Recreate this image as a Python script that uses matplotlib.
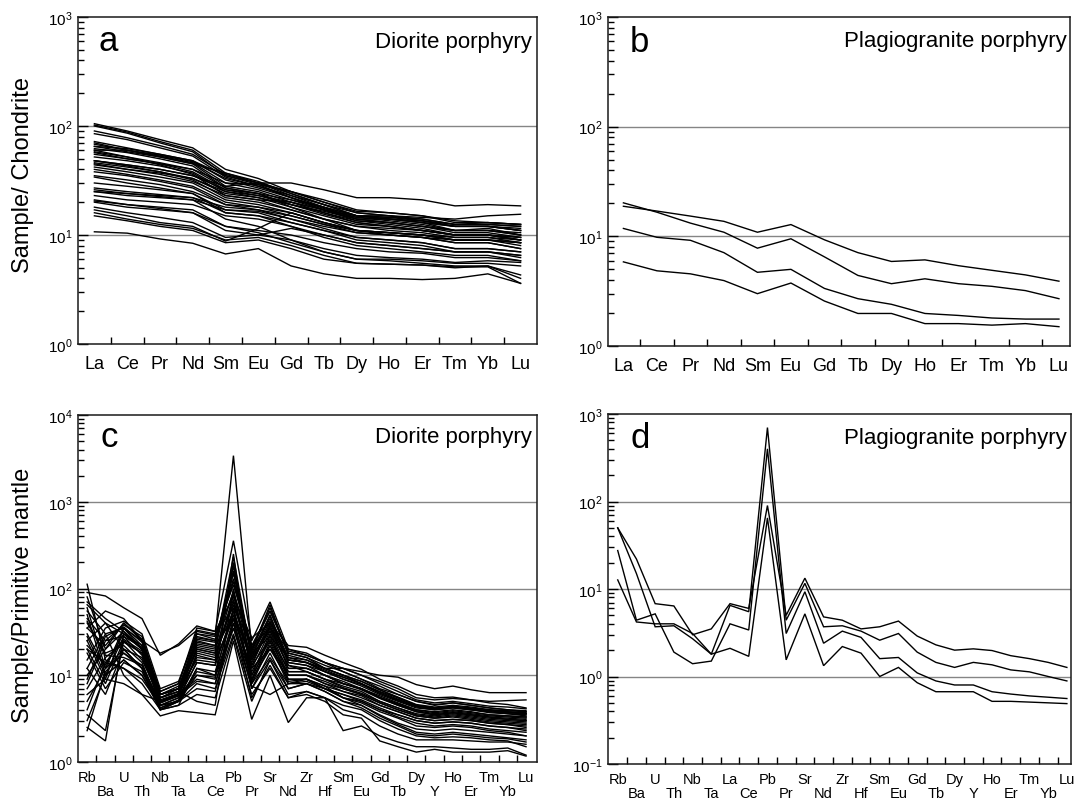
import matplotlib
matplotlib.use("Agg")
import matplotlib.pyplot as plt
import numpy as np

plt.rcParams['font.family'] = ['Liberation Sans', 'DejaVu Sans']
plt.rcParams['mathtext.fontset'] = 'custom'
plt.rcParams['mathtext.rm'] = 'Liberation Sans'
plt.rcParams['mathtext.it'] = 'Liberation Sans:italic'
plt.rcParams['mathtext.bf'] = 'Liberation Sans:bold'

# ---------------------------------------------------------------- elements
ree_elements = ['La', 'Ce', 'Pr', 'Nd', 'Sm', 'Eu', 'Gd', 'Tb', 'Dy', 'Ho',
                'Er', 'Tm', 'Yb', 'Lu']
spider_elements = ['Rb', 'Ba', 'U', 'Th', 'Nb', 'Ta', 'La', 'Ce', 'Pb', 'Pr',
                   'Sr', 'Nd', 'Zr', 'Hf', 'Sm', 'Eu', 'Gd', 'Tb', 'Dy', 'Y',
                   'Ho', 'Er', 'Tm', 'Yb', 'Lu']

# ------------------------------------------- chondrite-normalised REE (a)
diorite_ree = [
    [105, 90, 75, 63, 40, 33, 25, 20, 16, 15, 13.5, 12, 12, 11],
    [102, 88, 72, 60, 37, 31, 24, 19, 15, 14, 13, 11, 11.5, 10],
    [100, 86, 70, 58, 35, 29, 22, 17, 13.5, 12.5, 11.5, 10, 10, 9],
    [90, 78, 66, 55, 36, 30, 23, 18, 14, 13, 12, 10.5, 10.5, 9.5],
    [85, 75, 63, 53, 34, 28, 22, 17.5, 14.5, 13.5, 12.5, 11, 11, 10],
    [72, 63, 55, 48, 32, 27, 22, 18, 15, 14.5, 13.5, 12, 12, 11],
    [68, 60, 53, 46, 30, 26, 21, 17, 14, 13, 12, 11, 11, 10],
    [65, 58, 52, 45, 28, 25, 20, 16, 13, 12, 11, 10, 10, 9],
    [62, 57, 50, 43, 27, 24, 18, 14, 11, 10, 9.5, 8.5, 8.5, 7.5],
    [60, 60, 54, 47, 33, 28, 23, 19, 16, 15, 14, 12.5, 12.5, 12],
    [58, 52, 46, 40, 27, 24, 19, 15.5, 13, 12, 11, 10, 10, 9],
    [55, 50, 45, 38, 26, 23, 19, 16, 13.5, 13, 12, 11, 11, 10.5],
    [60, 52, 44, 36, 23, 21, 17, 14, 12, 11, 10.5, 9.5, 9.5, 8.5],
    [52, 48, 43, 37, 25, 22, 18, 15, 12.5, 12, 11, 10, 10, 9.5],
    [48, 44, 40, 35, 28, 30, 30, 26, 22, 22, 21, 18.5, 19, 18.5],
    [48, 43, 38, 33, 24, 22, 19, 16.5, 14, 14, 13.5, 12.5, 13, 12.5],
    [46, 42, 38, 32, 22, 20, 17, 14, 12, 11.5, 11, 10, 10, 9.5],
    [44, 40, 36, 31, 23, 21, 20, 17, 15, 15, 14.5, 14, 15, 15.5],
    [42, 38, 34, 30, 21, 19, 16, 13, 11, 10.5, 10, 9, 9, 8],
    [40, 36, 32, 28, 20, 18, 15, 12.5, 10.5, 10, 9.5, 8.5, 8.5, 7.5],
    [38, 35, 31, 27, 19, 17, 14, 11.5, 9.5, 9, 8.5, 7.5, 7.5, 7],
    [35, 32, 29, 25, 19, 18, 16, 13, 11, 10.5, 10, 9, 9, 8.5],
    [34, 30, 27, 24, 16, 15, 12, 9.5, 8, 7.5, 7, 6.5, 6.5, 5.8],
    [27, 25, 23.5, 22, 16, 15, 13, 11, 9, 8.5, 8, 7, 7, 6.5],
    [26, 24, 22.5, 21, 17, 16.5, 14, 12, 10.5, 10, 9.5, 9, 9, 8.5],
    [25, 24, 23, 22, 18, 17, 15, 12.5, 11, 10.5, 10, 9.5, 9.5, 9],
    [25, 23, 22, 21, 14, 12, 9, 7, 6, 6, 5.8, 5.5, 5.5, 5.2],
    [21, 19, 18, 17, 12, 10.5, 8.5, 7, 6, 5.8, 5.5, 5.2, 5.2, 4.3],
    [20.5, 19, 17.5, 16, 11, 10, 9, 7.5, 6.5, 6.2, 6, 5.6, 5.8, 5.6],
    [20, 18, 17, 16, 12, 11, 10, 8.5, 7.5, 7, 6.8, 6.2, 6.2, 5.8],
    [17, 15, 13, 12, 8.8, 11.5, 16, 13, 11, 10.5, 10, 9, 9, 8.5],
    [18, 16, 14.5, 13, 9.5, 10, 11.5, 10, 8.5, 8, 7.5, 7, 7, 6.5],
    [16, 14, 12.5, 11.5, 9, 9.5, 8, 6.5, 5.5, 5.4, 5.3, 5.0, 5.2, 4.0],
    [15, 13.5, 12, 11, 8.5, 9, 7.5, 6, 5.5, 5.4, 5.3, 5.1, 5.1, 3.6],
    [10.7, 10.4, 9.2, 8.4, 6.7, 7.5, 5.2, 4.4, 4.0, 4.0, 3.9, 4.0, 4.4, 3.6],
    [65, 62, 55, 48, 35, 30, 25, 20, 16.5, 16, 15, 13.5, 13, 12.5],
    [70, 60, 52, 45, 37, 30, 24, 19, 15, 14, 13, 12, 12, 11],
    [57, 50, 45, 40, 30, 29, 25, 21, 17, 16, 15, 13, 13, 12.5],
    [45, 40, 37, 33, 25, 23, 20, 17, 14.5, 14, 13, 12, 12, 11.5],
    [30, 28, 26, 24, 17, 16, 13, 11, 9.5, 9, 8.5, 7.5, 7.5, 7],
    [23, 21, 20, 19, 15, 14, 12, 10, 8.5, 8, 7.5, 7, 7, 6.2],
    [48, 44, 40, 35, 26, 24, 21, 18, 15, 14.5, 14, 12.5, 12.5, 12],
]

# ------------------------------------------- chondrite-normalised REE (b)
plagio_ree = [
    [18.8, 17, 15.3, 13.7, 10.9, 12.8, 9.3, 7.1, 5.9, 6.1, 5.4, 4.9, 4.45, 3.9],
    [20.2, 16.6, 13.2, 10.9, 7.8, 9.5, 6.5, 4.4, 3.7, 4.1, 3.7, 3.5, 3.2, 2.7],
    [11.8, 9.8, 9.2, 7.1, 4.7, 5.0, 3.35, 2.7, 2.4, 1.98, 1.9, 1.8, 1.76, 1.76],
    [5.85, 4.85, 4.55, 3.95, 3.0, 3.75, 2.57, 1.98, 1.98, 1.6, 1.6, 1.55, 1.6, 1.5],
]

# ----------------------------------- primitive-mantle-normalised traces (c)
diorite_spider = [
    [12, 30, 35, 20, 6, 7, 30, 28, 3400, 20, 55, 18, 16, 12, 10, 8, 6.5, 5.5, 4.5, 4.2, 4.3, 4.0, 3.8, 3.6, 3.4],
    [80, 20, 40, 25, 6.5, 8, 35, 32, 355, 25, 70, 20, 18, 14, 11, 9, 7, 6, 5, 4.5, 4.8, 4.5, 4.2, 4, 3.8],
    [25, 40, 30, 22, 6, 7, 25, 22, 45, 18, 28, 16, 14, 12, 12, 11, 10, 9.5, 7.8, 7.0, 7.5, 6.8, 6.3, 6.3, 6.3],
    [35, 55, 45, 25, 18, 22, 33, 30, 60, 22, 35, 20, 17, 14, 12, 10, 8.5, 7, 5.5, 5.2, 5.4, 5.2, 5.0, 5.1, 5.2],
    [90, 82, 60, 45, 17, 23, 37, 32, 80, 27, 40, 22, 21, 17, 14, 11.7, 9, 7.5, 6, 5.5, 5.6, 5.2, 4.8, 4.6, 4.2],
    [3, 10, 15, 10, 4.5, 5, 8, 7, 30, 6, 12, 5.5, 6, 5, 3.5, 3.2, 1.75, 1.5, 1.3, 1.4, 1.3, 1.3, 1.3, 1.35, 1.17],
    [5, 12, 20, 12, 4, 4.5, 6, 5.5, 28, 5, 15, 6, 6.5, 5.5, 2.3, 2.6, 2.0, 1.7, 1.5, 1.5, 1.45, 1.4, 1.4, 1.45, 1.2],
    [112, 15, 12, 8, 4, 5, 12, 10, 40, 9, 20, 9, 9, 7, 6, 5, 4, 3.5, 3, 2.8, 2.9, 2.8, 2.6, 2.5, 2.3],
    [2.5, 1.75, 30, 20, 5, 6, 20, 18, 55, 14, 35, 13, 11, 9, 8, 7, 5.5, 4.5, 3.8, 3.5, 3.7, 3.5, 3.3, 3.1, 3.0],
    [3.5, 2.3, 25, 15, 5.5, 7, 15, 14, 50, 11, 25, 10, 10, 8, 6.5, 5.5, 4.5, 3.8, 3.2, 3.0, 3.1, 3.0, 2.8, 2.7, 2.5],
    [60, 12, 35, 25, 5, 6, 28, 25, 120, 18, 45, 15, 14, 11, 9, 7.5, 6, 5, 4.2, 4.0, 4.2, 4.0, 3.8, 3.7, 3.6],
    [45, 25, 38, 28, 6, 7.5, 22, 20, 150, 16, 50, 14, 13, 10, 8.5, 7, 5.8, 4.8, 4.0, 3.8, 4.0, 3.8, 3.5, 3.4, 3.3],
    [20, 8, 25, 18, 4.5, 5.5, 14, 13, 200, 10, 30, 10, 10, 8, 7, 6, 4.8, 4, 3.4, 3.2, 3.4, 3.2, 3.0, 2.9, 2.8],
    [10, 20, 32, 20, 5, 6, 10, 9, 250, 8, 22, 8, 9, 7, 5.5, 5, 4, 3.3, 2.8, 2.6, 2.7, 2.6, 2.4, 2.3, 2.2],
    [8, 25, 28, 17, 5.5, 6.5, 5, 4.5, 100, 7, 18, 7, 8, 6.5, 5, 4.5, 3.5, 2.8, 2.4, 2.3, 2.4, 2.3, 2.2, 2.1, 2.0],
    [6, 9, 8, 6, 3.4, 3.9, 3.7, 3.5, 25, 3.1, 10, 2.85, 5.5, 5.5, 4.5, 4, 3, 2.4, 2, 1.9, 1.95, 1.9, 1.8, 1.75, 1.5],
    [55, 30, 10, 6, 5, 6, 9, 8, 35, 7.5, 6, 8, 8, 7, 5.5, 4.8, 3.8, 3.2, 2.6, 2.5, 2.6, 2.5, 2.3, 2.2, 2.0],
    [40, 18, 22, 14, 4.2, 5, 18, 16, 70, 13, 38, 12, 12, 10, 8, 7, 5.5, 4.6, 3.9, 3.6, 3.8, 3.6, 3.4, 3.3, 3.2],
    [30, 12, 18, 12, 4, 4.5, 12, 11, 50, 9, 28, 9, 9, 7.5, 6.5, 5.8, 4.5, 3.8, 3.2, 3.0, 3.1, 3.0, 2.8, 2.7, 2.6],
    [15, 35, 42, 30, 7, 8.5, 30, 26, 90, 20, 60, 18, 16, 13, 11, 9, 7.5, 6, 5, 4.6, 4.8, 4.5, 4.2, 4.0, 3.9],
    [25, 9, 35, 22, 5.5, 6.5, 24, 22, 180, 17, 42, 15, 14, 11, 9.5, 8, 6.2, 5.2, 4.4, 4.1, 4.3, 4.1, 3.9, 3.8, 3.7],
    [70, 45, 32, 20, 6, 7, 20, 18, 65, 15, 33, 13, 12, 10, 8, 6.8, 5.4, 4.5, 3.8, 3.5, 3.7, 3.5, 3.3, 3.2, 3.1],
    [12, 6, 20, 16, 5, 6, 16, 15, 45, 12, 20, 11, 11, 9, 7.5, 6.5, 5, 4.2, 3.6, 3.4, 3.6, 3.4, 3.2, 3.1, 3.0],
    [4, 14, 12, 9, 4.5, 5, 7, 6.5, 40, 5.5, 13, 5.5, 6.5, 5.5, 4, 3.5, 2.6, 2.1, 1.8, 1.8, 1.8, 1.75, 1.7, 1.7, 1.6],
    [20, 14, 26, 19, 5, 6, 26, 24, 130, 19, 48, 16, 15, 12, 10, 8.5, 6.8, 5.6, 4.6, 4.3, 4.5, 4.3, 4.0, 3.9, 3.8],
    [50, 10, 15, 10, 4, 5, 10, 9.5, 35, 8, 16, 8, 8.5, 7, 6, 5.2, 4.2, 3.5, 3.0, 2.8, 2.9, 2.8, 2.6, 2.5, 2.4],
    [7, 16, 24, 18, 5.5, 6.5, 19, 17, 75, 13, 26, 12, 12, 10, 8, 7, 5.6, 4.7, 4.0, 3.7, 3.9, 3.7, 3.5, 3.4, 3.3],
    [35, 22, 40, 26, 6.5, 8, 32, 29, 110, 22, 55, 19, 17, 14, 12, 10, 8, 6.5, 5.2, 4.8, 5.0, 4.7, 4.4, 4.3, 4.1],
    [18, 7, 14, 11, 4.2, 5.2, 11, 10, 60, 8.5, 24, 8.5, 9, 7.5, 5.5, 4.5, 3.4, 2.7, 2.2, 2.1, 2.2, 2.1, 2.0, 1.9, 1.8],
    [9, 28, 36, 24, 6, 7, 27, 25, 160, 19, 65, 17, 15, 12, 10, 8.5, 6.8, 5.5, 4.5, 4.2, 4.4, 4.2, 4.0, 3.8, 3.6],
    [65, 40, 20, 12, 4.5, 5.5, 14, 13, 55, 10, 22, 10, 10, 8.5, 7, 6, 4.8, 4, 3.4, 3.2, 3.3, 3.1, 2.9, 2.8, 2.7],
    [2.3, 11, 18, 13, 4.8, 5.8, 17, 15, 85, 12, 32, 11, 11, 9, 7.2, 6.2, 5, 4.2, 3.5, 3.3, 3.5, 3.3, 3.1, 3.0, 2.9],
    [28, 10, 28, 21, 5.2, 6.2, 21, 19, 95, 15, 40, 14, 13, 11, 9, 7.8, 6.2, 5.1, 4.3, 4.0, 4.2, 4.0, 3.7, 3.6, 3.5],
    [42, 17, 16, 13, 4.8, 5.8, 8.5, 8, 45, 7, 15, 7, 8, 6.5, 5, 4.2, 3.2, 2.6, 2.1, 2.0, 2.1, 2.0, 1.9, 1.85, 1.7],
    [22, 13, 30, 20, 6, 7, 23, 21, 230, 16, 36, 15, 14, 11.5, 9.5, 8, 6.4, 5.3, 4.4, 4.1, 4.3, 4.1, 3.9, 3.7, 3.6],
]

# ----------------------------------- primitive-mantle-normalised traces (d)
plagio_spider = [
    [50, 22, 6.8, 6.4, 3.0, 3.5, 6.8, 6.0, 90, 5.0, 13.3, 4.8, 4.4, 3.5, 3.7, 4.3, 2.9, 2.3, 2.0, 2.07, 1.98, 1.73, 1.6, 1.45, 1.27],
    [50, 15, 3.7, 3.8, 2.7, 1.8, 6.5, 5.5, 700, 4.4, 11.6, 3.7, 3.8, 3.3, 2.6, 3.1, 1.9, 1.45, 1.27, 1.45, 1.36, 1.19, 1.13, 1.0, 0.89],
    [27.5, 4.4, 5.2, 1.9, 1.4, 1.5, 4.0, 3.4, 400, 3.1, 9.3, 2.4, 3.3, 2.8, 1.6, 1.65, 1.1, 0.89, 0.8, 0.8, 0.67, 0.63, 0.6, 0.58, 0.56],
    [12.7, 4.2, 4.0, 4.0, 3.1, 1.8, 2.1, 1.7, 65, 1.55, 5.2, 1.33, 2.2, 1.85, 1.0, 1.27, 0.85, 0.67, 0.67, 0.67, 0.52, 0.52, 0.51, 0.5, 0.49],
]

W, H = 1081, 803
fig = plt.figure(figsize=(W / 100, H / 100), dpi=100)


def px_box(left, right, top, bottom):
    return [left / W, 1 - bottom / H, (right - left) / W, (bottom - top) / H]


def fig_xy(x, y):
    return x / W, 1 - y / H


def draw_panel(rect, elements, samples, xlim, exp_lo, exp_hi, xfont, stagger):
    ax = fig.add_axes(rect)
    n = len(elements)
    x = np.arange(n)
    ax.set_yscale('log')
    ax.set_ylim(10.0 ** exp_lo, 10.0 ** exp_hi)
    ax.set_xlim(*xlim)

    for k in range(exp_lo + 1, exp_hi):
        ax.axhline(10.0 ** k, color='#858585', lw=1.0, zorder=1)

    for s in samples:
        ax.plot(x, s, color='black', lw=1.0, zorder=3, solid_joinstyle='miter')

    # y axis: decades labelled, minor ticks inside
    majors = [10.0 ** k for k in range(exp_lo, exp_hi + 1)]
    minors = [m * 10.0 ** k for k in range(exp_lo, exp_hi) for m in range(2, 10)]
    ax.set_yticks(majors)
    ax.set_yticklabels([r'$\mathregular{10^{%d}}$' % k for k in range(exp_lo, exp_hi + 1)])
    ax.set_yticks(minors, minor=True)
    ax.set_yticklabels([], minor=True)
    ax.tick_params(axis='y', which='major', direction='in', length=7, width=1.0,
                   labelsize=11, pad=4, right=False)
    ax.tick_params(axis='y', which='minor', direction='in', length=4, width=1.0,
                   right=False)

    # x axis: names at element positions, tick marks between them;
    # with many elements every second name drops to a lower row
    ax.set_xticks(x)
    if stagger:
        ax.set_xticklabels([e if i % 2 == 0 else '' for i, e in enumerate(elements)])
        for i, e in enumerate(elements):
            if i % 2 == 1:
                ax.annotate(e, xy=(i, 0), xycoords=ax.get_xaxis_transform(),
                            xytext=(0, -15.5), textcoords='offset points',
                            ha='center', va='top', fontsize=xfont,
                            annotation_clip=False)
        pad = 6.0
    else:
        ax.set_xticklabels(list(elements))
        pad = 8.0
    ax.set_xticks(x[:-1] + 0.5, minor=True)
    ax.tick_params(axis='x', which='major', length=0, labelsize=xfont, pad=pad)
    ax.tick_params(axis='x', which='minor', direction='in', length=5, width=1.0,
                   top=False)

    for sp in ax.spines.values():
        sp.set_linewidth(1.1)
        sp.set_color('#1a1a1a')
    return ax


ax_a = draw_panel(px_box(78, 537, 18, 345), ree_elements, diorite_ree,
                  (-0.5, 13.5), 0, 3, 13, False)
ax_b = draw_panel(px_box(608, 1070, 18, 347), ree_elements, plagio_ree,
                  (-0.46, 13.33), 0, 3, 13, False)
ax_c = draw_panel(px_box(78, 537, 416, 763), spider_elements, diorite_spider,
                  (-0.5, 24.6), 0, 4, 10.5, True)
ax_d = draw_panel(px_box(608, 1071, 415, 765), spider_elements, plagio_spider,
                  (-0.52, 24.22), -1, 3, 10.5, True)

# panel letters and rock names
for letter, (lx, ly), name, (nx, ny) in [
        ('a', (99, 51), 'Diorite porphyry', (532, 48)),
        ('b', (630, 52), 'Plagiogranite porphyry', (1067, 47)),
        ('c', (100, 447), 'Diorite porphyry', (532, 443)),
        ('d', (630, 448), 'Plagiogranite porphyry', (1067, 444))]:
    fig.text(*fig_xy(lx, ly), letter, fontsize=25, ha='left', va='baseline')
    fig.text(*fig_xy(nx, ny), name, fontsize=16, ha='right', va='baseline')

fig.text(*fig_xy(23, 175), 'Sample/ Chondrite', fontsize=17, rotation=90,
         ha='center', va='center')
fig.text(*fig_xy(23, 595), 'Sample/Primitive mantle', fontsize=17, rotation=90,
         ha='center', va='center')

fig.savefig('out.png', dpi=100, facecolor='white')
